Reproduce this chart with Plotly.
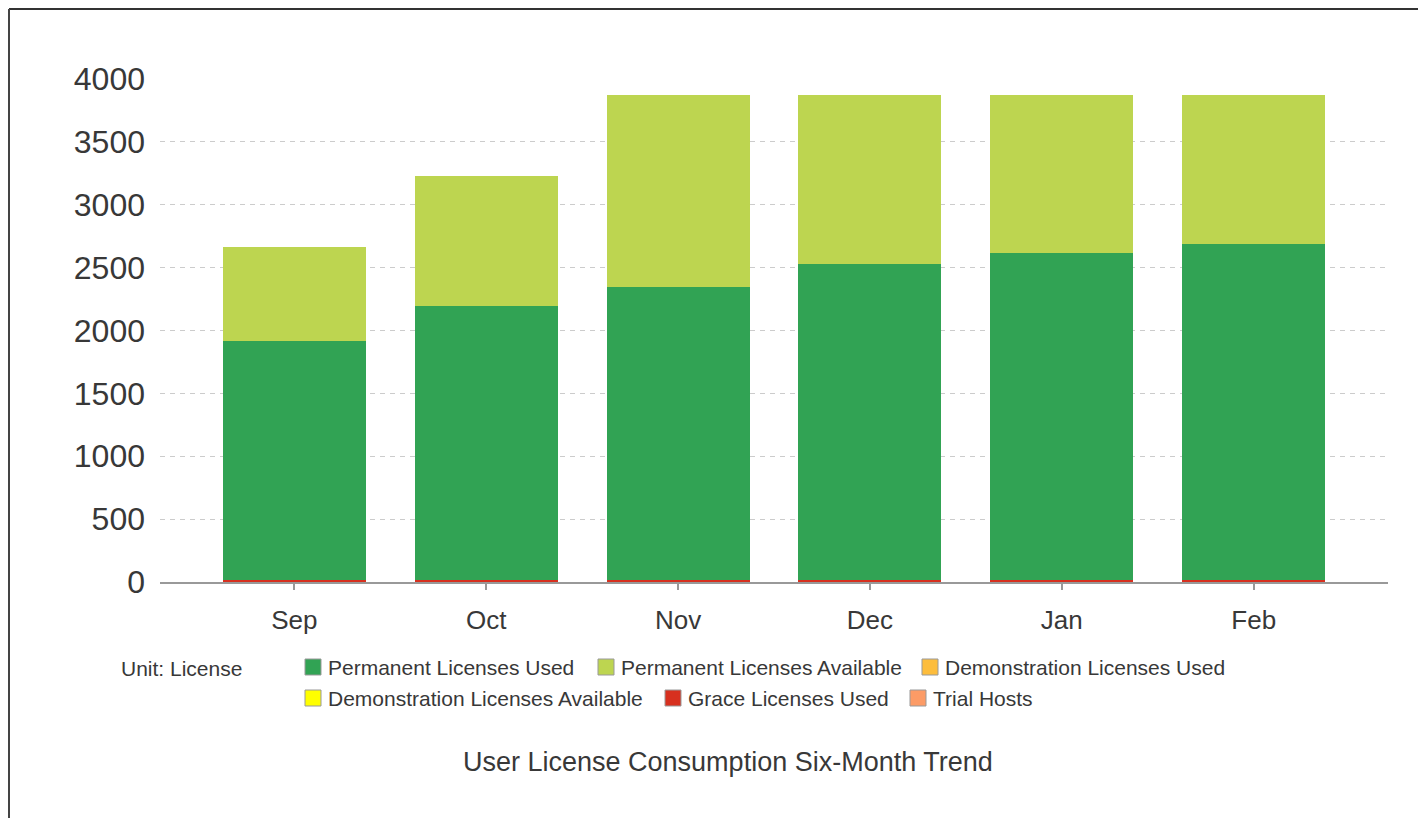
import plotly.graph_objects as go

# chart data
months = ['Sep', 'Oct', 'Nov', 'Dec', 'Jan', 'Feb']
perm_used = [1900, 2180, 2330, 2513, 2600, 2672]
perm_avail = [750, 1033, 1527, 1344, 1257, 1185]
demo_used = [0, 0, 0, 0, 0, 0]
demo_avail = [0, 0, 0, 0, 0, 0]
grace_used = [14, 14, 14, 14, 14, 14]
trial_hosts = [0, 0, 0, 0, 0, 0]
y_ticks = [0, 500, 1000, 1500, 2000, 2500, 3000, 3500, 4000]

series_names = ['Permanent Licenses Used', 'Permanent Licenses Available',
                'Demonstration Licenses Used', 'Demonstration Licenses Available',
                'Grace Licenses Used', 'Trial Hosts']
series_vals = [perm_used, perm_avail, demo_used, demo_avail, grace_used, trial_hosts]
colors = ['#31a354', '#bdd550', '#fdbd3c', '#ffff00', '#d7301f', '#fc9b66']

# page has an 8px body margin, so the figure itself is 8px smaller
OFF = 8
W, H = 1426 - OFF, 818 - OFF
L, R, T, B = 160 - OFF, 38, 79 - OFF, 236
FONT = 'Liberation Sans, Arial, sans-serif'
TXT = '#383838'


def px(x):
    # screen pixel -> paper x
    return (x - OFF - L) / (W - L - R)


def py(y):
    # screen pixel -> paper y
    return (H - B - (y - OFF)) / (H - T - B)


fig = go.Figure()

# grace first so it sits at the very bottom of the stack (thin red line)
order = [4, 0, 1, 2, 3, 5]
for i in order:
    fig.add_trace(go.Bar(
        x=months, y=series_vals[i], name=series_names[i],
        marker=dict(color=colors[i], line=dict(width=0)),
        showlegend=False))

shapes = []
annotations = []

# outer frame (only top and left edges are visible in the window)
shapes.append(dict(type='line', xref='paper', yref='paper',
                   x0=px(9), x1=px(W + 40), y0=py(9), y1=py(9),
                   line=dict(color='#333333', width=2)))
shapes.append(dict(type='line', xref='paper', yref='paper',
                   x0=px(9), x1=px(9), y0=py(9), y1=py(H + 40),
                   line=dict(color='#444444', width=2)))

# hand-made legend, laid out like the original
legend_pos = [(305, 667), (598, 667), (922, 667),
              (305, 698), (665, 698), (910, 698)]
sw = 16
for (lx, ly), name, col in zip(legend_pos, series_names, colors):
    shapes.append(dict(type='rect', xref='paper', yref='paper',
                       x0=px(lx), x1=px(lx + sw), y0=py(ly - sw / 2), y1=py(ly + sw / 2),
                       fillcolor=col, line=dict(color='#999999', width=1)))
    annotations.append(dict(xref='paper', yref='paper', x=px(lx + sw + 5), y=py(ly),
                            xanchor='left', yanchor='middle', showarrow=False,
                            text=name, font=dict(size=21, color=TXT, family=FONT)))

annotations.append(dict(xref='paper', yref='paper', x=px(119), y=py(668),
                        xanchor='left', yanchor='middle', showarrow=False,
                        text='Unit: License', font=dict(size=21, color=TXT, family=FONT)))
annotations.append(dict(xref='paper', yref='paper', x=px(728), y=py(762),
                        xanchor='center', yanchor='middle', showarrow=False,
                        text='User License Consumption Six-Month Trend',
                        font=dict(size=27, color=TXT, family=FONT)))

fig.update_layout(
    width=W, height=H,
    barmode='stack', bargap=0.255,
    margin=dict(l=L, r=R, t=T, b=B, pad=0),
    paper_bgcolor='white', plot_bgcolor='white',
    font=dict(family=FONT, color=TXT),
    showlegend=False,
    shapes=shapes, annotations=annotations,
    xaxis=dict(range=[-0.7, 5.7], showgrid=False, zeroline=False,
               showline=True, linecolor='#999999', linewidth=2,
               ticks='outside', ticklen=6, tickcolor='#999999', tickwidth=2,
               tickfont=dict(size=26, color=TXT), ticklabelstandoff=8),
    yaxis=dict(range=[0, 4000], tickvals=y_ticks, showgrid=True,
               gridcolor='#cccccc', griddash='5px,5px', gridwidth=1,
               zeroline=False, showline=False,
               tickfont=dict(size=32, color=TXT), ticklabelstandoff=14),
)

fig.write_html('out.html')
